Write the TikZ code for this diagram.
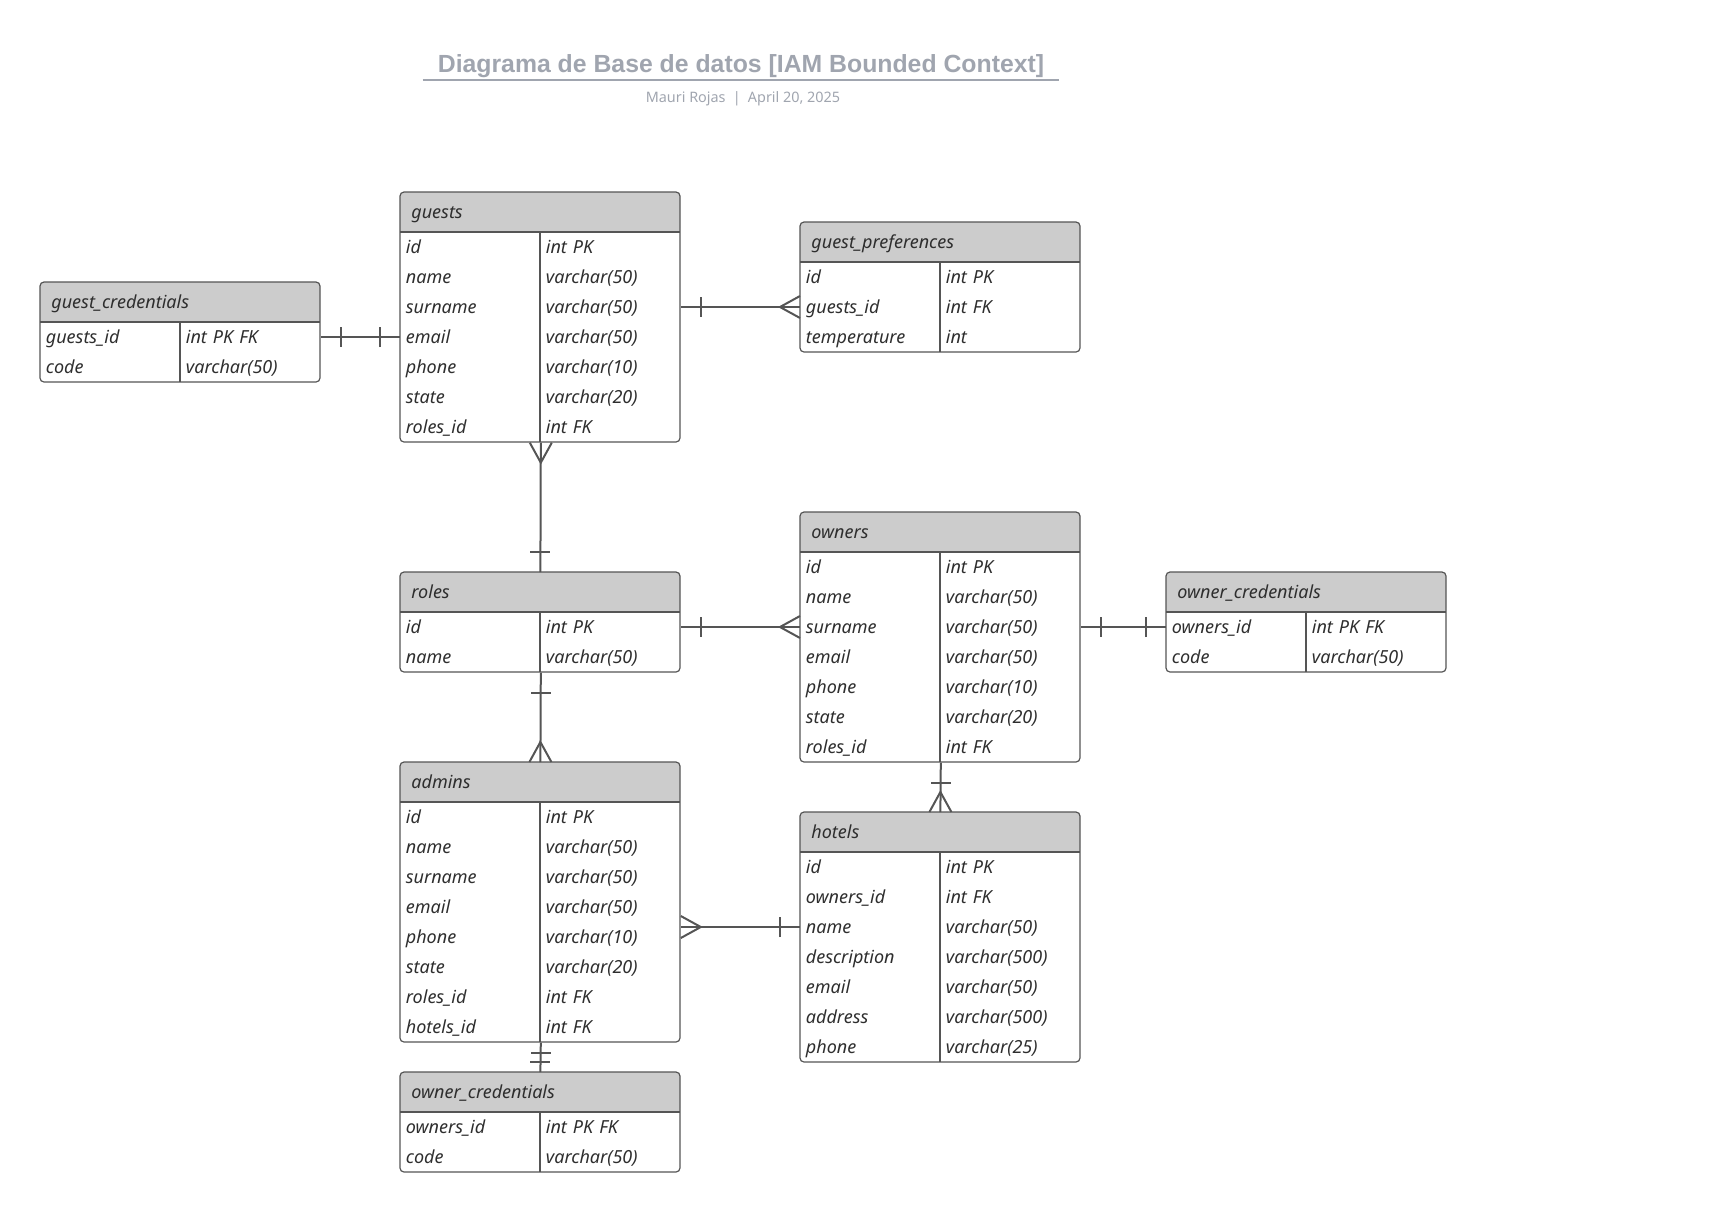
\documentclass[tikz,border=0pt]{standalone}
\usepackage{fontspec}
\setmainfont{Noto Sans}
\newfontfamily\ttlfont{Liberation Sans}
\usepackage{tikz}
\definecolor{hdrgray}{HTML}{CCCCCC}
\definecolor{linegray}{HTML}{555555}
\definecolor{txtgray}{HTML}{2E2E2E}
\definecolor{ttlgray}{HTML}{A0A5AF}

% table: name, left x, top y, title, number of rows, rows (field/type)
\newcommand{\ertable}[6]{%
  \fill[hdrgray, rounded corners=2pt] ({#2},{#3}) rectangle ++(280,40);
  \fill[hdrgray] ({#2},{#3+20}) rectangle ++(280,20);
  \node[hdr] (#1) at ({#2},{#3}) {#4};
  \foreach \fld/\typ [count=\row] in {#6} {
    \node[cell] (#1-k\row) at ({#2},{#3+25+30*\row}) {\fld};
    \node[cell] (#1-t\row) at ({#2+140},{#3+25+30*\row}) {\typ};
  }
  \draw[tbl] ({#2},{#3+40}) -- ++(280,0);
  \draw[tbl] ({#2+140},{#3+40}) -- ++(0,{30*#5});
  \draw[tbl, rounded corners=2pt] ({#2},{#3}) rectangle ++(280,{40+30*#5});
}

\begin{document}
\begin{tikzpicture}[
  x=0.5pt, y=-0.5pt,
  hdr/.style={anchor=north west, minimum height=20pt, text width=129pt,
              inner xsep=5.5pt, align=left, text=txtgray,
              text height=7.2pt, text depth=1.4pt,
              font=\fontsize{9}{10}\selectfont\itshape},
  cell/.style={anchor=west, minimum height=15pt, text width=64.5pt,
               inner xsep=2.75pt, align=left, text=txtgray,
               text height=7.7pt, text depth=0.9pt,
               font=\fontsize{9}{10}\selectfont\itshape},
  tbl/.style={draw=linegray, line width=0.6pt},
  rel/.style={draw=linegray, line width=1pt},
  ttl/.style={anchor=base, inner xsep=0pt, inner ysep=1pt, minimum width=318pt,
              text=ttlgray, font=\ttlfont\fontsize{12.4}{14}\selectfont\bfseries},
  sub/.style={text=ttlgray, font=\fontsize{7.2}{8}\selectfont},
  pics/one/.style={code={\draw[rel] (#1,-10) -- (#1,10);}},
  pics/one/.default=20,
  pics/many/.style={code={\draw[rel] (0,-11) -- (20,0) -- (0,11);}},
]
\useasboundingbox (0,0) rectangle (1721,1212);

% ---- Title ----
\node[ttl] (title) at (741,72) {Diagrama de Base de datos [IAM Bounded Context]};
\draw[draw=ttlgray, line width=0.9pt] (title.south west) -- (title.south east);
\node[sub] (author) at (743,99) {Mauri Rojas\enspace|\enspace April 20, 2025};

% ---- Tables ----
\ertable{gcred}{40}{282}{guest\_credentials}{2}
  {guests\_id/int PK FK, code/varchar(50)}
\ertable{guests}{400}{192}{guests}{7}
  {id/int PK, name/varchar(50), surname/varchar(50), email/varchar(50),
   phone/varchar(10), state/varchar(20), roles\_id/int FK}
\ertable{gpref}{800}{222}{guest\_preferences}{3}
  {id/int PK, guests\_id/int FK, temperature/int}
\ertable{roles}{400}{572}{roles}{2}
  {id/int PK, name/varchar(50)}
\ertable{owners}{800}{512}{owners}{7}
  {id/int PK, name/varchar(50), surname/varchar(50), email/varchar(50),
   phone/varchar(10), state/varchar(20), roles\_id/int FK}
\ertable{ocred}{1166}{572}{owner\_credentials}{2}
  {owners\_id/int PK FK, code/varchar(50)}
\ertable{admins}{400}{762}{admins}{8}
  {id/int PK, name/varchar(50), surname/varchar(50), email/varchar(50),
   phone/varchar(10), state/varchar(20), roles\_id/int FK, hotels\_id/int FK}
\ertable{hotels}{800}{812}{hotels}{7}
  {id/int PK, owners\_id/int FK, name/varchar(50), description/varchar(500),
   email/varchar(50), address/varchar(500), phone/varchar(25)}
\ertable{ocred2}{400}{1072}{owner\_credentials}{2}
  {owners\_id/int PK FK, code/varchar(50)}

% ---- Relations ----
\draw[rel] (gcred-t1.east) -- (guests-k4.west);
\pic at (gcred-t1.east) {one};
\pic[rotate=180] at (guests-k4.west) {one};

\draw[rel] (guests-t3.east) -- (gpref-k2.west);
\pic at (guests-t3.east) {one};
\pic[rotate=180] at (gpref-k2.west) {many};

\draw[rel] (guests-k7.south east) -- (roles.north);
\pic[rotate=-90] at (guests-k7.south east) {many};
\pic[rotate=90] at (roles.north) {one};

\draw[rel] (roles-t1.east) -- (owners-k3.west);
\pic at (roles-t1.east) {one};
\pic[rotate=180] at (owners-k3.west) {many};

\draw[rel] (owners-t3.east) -- (ocred-k1.west);
\pic at (owners-t3.east) {one};
\pic[rotate=180] at (ocred-k1.west) {one};

\draw[rel] (roles-k2.south east) -- (admins.north);
\pic[rotate=-90] at (roles-k2.south east) {one};
\pic[rotate=90] at (admins.north) {many};

\draw[rel] (owners-k7.south east) -- (hotels.north);
\pic[rotate=-90] at (owners-k7.south east) {one};
\pic[rotate=90] at (hotels.north) {many};

\draw[rel] (hotels-k3.west -| admins-t4.east) -- (hotels-k3.west);
\pic at (hotels-k3.west -| admins-t4.east) {many};
\pic[rotate=180] at (hotels-k3.west) {one};

\draw[rel] (admins-k8.south east) -- (ocred2.north);
\pic[rotate=-90] at (admins-k8.south east) {one=10};
\pic[rotate=90] at (ocred2.north) {one=10};

\end{tikzpicture}
\end{document}
